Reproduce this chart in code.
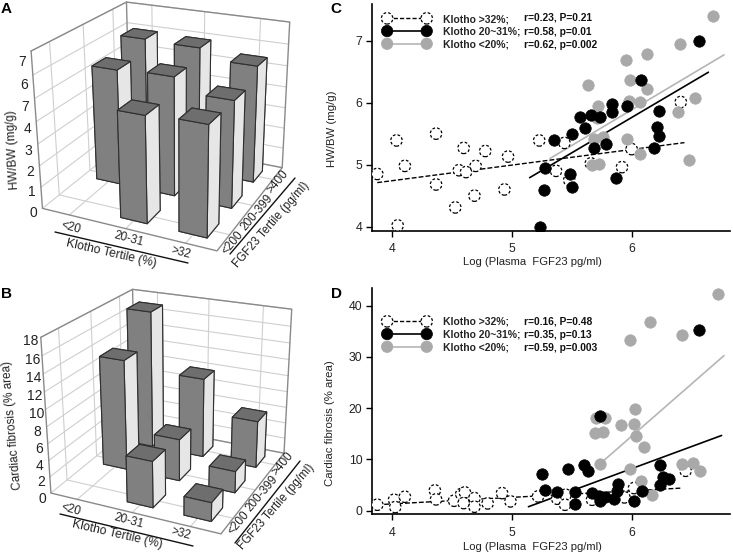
import numpy as np, matplotlib
matplotlib.use("Agg")
import matplotlib.pyplot as plt, seaborn as sns
from matplotlib.lines import Line2D
from matplotlib.legend_handler import HandlerTuple
from mpl_toolkits.mplot3d import proj3d

sns.set_theme(style="ticks")
plt.rcParams['font.family'] = ['Liberation Sans', 'DejaVu Sans']
W, H = 733, 554

klotho_labels = ['<20', '20-31', '>32']
fgf_labels = ['<200', '200-399', '>400']
hw_ticks = ['0', '1', '2', '3', '4', '7', '6', '7']
fib_ticks = ['0', '2', '4', '6', '8', '10', '12', '14', '16', '18']
# rows: Klotho tertile; columns: FGF23 tertile
hw_bw = [[0, 5.4, 6.0], [4.8, 5.5, 5.95], [4.9, 4.9, 5.5]]
fibrosis = [[0, 13.4, 17.1], [5.5, 5.1, 9.9], [2.2, 2.6, 5.8]]

c_white_x = [3.88,4.04,4.05,4.11,4.37,4.37,4.53,4.56,4.60,4.62,4.69,4.70,4.78,4.94,4.97,5.23,5.37,5.44,5.48,5.66,5.92,6.00,6.41]
c_white_y = [4.85,5.39,4.02,4.98,5.50,4.68,4.31,4.91,5.27,4.88,4.50,4.98,5.22,4.60,5.13,5.39,4.90,5.35,4.75,5.02,4.96,5.25,6.01]
c_black_x = [5.235,5.27,5.28,5.35,5.49,5.50,5.50,5.57,5.61,5.66,5.69,5.74,5.79,5.84,5.84,5.87,5.96,6.08,6.19,6.21,6.23,6.23,6.56]
c_black_y = [4.00,4.59,4.95,5.39,4.85,4.64,5.50,5.77,5.59,5.80,5.27,5.76,5.33,5.85,5.98,4.78,5.94,6.37,5.27,5.60,5.46,5.87,7.00]
c_gray_x = [5.64,5.72,5.71,5.69,5.76,5.67,5.73,5.95,5.99,5.98,6.07,5.96,6.07,6.13,6.13,6.40,6.39,6.53,6.48,6.68]
c_gray_y = [6.28,5.94,5.75,5.41,5.45,4.99,5.01,6.68,6.37,6.03,6.01,5.41,5.17,6.78,6.22,6.95,5.85,6.08,5.08,7.39]
c_line_white = ([3.88, 6.44], [4.71, 5.355])
c_line_black = ([5.15, 6.64], [4.79, 6.49])
c_line_gray = ([5.32, 6.77], [5.10, 6.77])

d_white_x = [3.88,4.02,4.03,4.11,4.36,4.37,4.52,4.58,4.61,4.60,4.69,4.69,4.80,4.92,4.99,5.22,5.38,5.45,5.445,5.67,5.94,6.02,6.45]
d_white_y = [1.17,2.14,0.71,2.73,3.96,2.21,1.95,3.25,3.57,1.49,2.47,0.78,1.43,3.44,1.82,2.79,2.34,3.12,1.17,2.14,2.60,4.42,7.79]
d_black_x = [5.25,5.28,5.38,5.47,5.53,5.53,5.60,5.64,5.67,5.74,5.73,5.74,5.78,5.85,5.88,5.89,6.02,6.09,6.24,6.24,6.26,6.31,6.56]
d_black_y = [7.14,4.09,3.64,8.12,3.70,1.36,8.96,7.79,3.44,18.44,2.79,1.82,2.60,2.27,3.77,5.19,1.95,3.77,8.96,5.07,6.62,6.23,35.26]
d_gray_x = [5.70,5.78,5.695,5.76,5.74,5.91,6.02,6.03,6.04,6.10,5.99,6.15,6.42,6.72,5.99,6.08,6.17,6.42,6.51,6.57]
d_gray_y = [18.18,18.05,15.13,15.45,9.09,16.82,16.95,19.81,14.61,12.47,33.38,36.75,34.29,42.2,8.18,5.71,2.99,9.09,9.29,7.79]
d_line_white = ([3.88, 6.42], [1.17, 4.42])
d_line_black = ([5.14, 6.75], [0.78, 14.68])
d_line_gray = ([5.74, 6.77], [9.22, 30.26])

fig = plt.figure(figsize=(W/100, H/100), dpi=100)

# camera: elev, azim, focal length, x aspect, y aspect, roll
cam_a = (22.74, -64.409, 0.519, 1.139, 1.134, 0.386)
place_a = (1627.03, 167.32, 114.28)
cam_b = (22.676, -64.905, 0.536, 1.119, 1.122, 0.132)
place_b = (1592.63, 172.62, 400.13)

FACE = '#808080'; TOP = '#6e6e6e'; SIDE = '#e6e6e6'; EDGE = '#303030'
GRID = '#cfcfcf'; FRAME = '#8a8a8a'

def panel3d(p, sol, values, zmax, zstep, zticks, lab_scale, lab_off):
    ax = fig.add_axes([0.25,0.25,0.5,0.5*W/H], projection='3d')
    ax.patch.set_alpha(0)
    ax.computed_zorder = False
    ax.view_init(elev=p[0], azim=p[1], roll=p[5])
    ax.set_proj_type('persp', focal_length=p[2])
    ax.set_box_aspect((p[3], p[4], 1))
    ax.apply_aspect()
    (u0, v0), (u1, v1) = ax.transData.inverted().transform(ax.transAxes.transform([(0,0),(1,1)]))
    s, tx, ty = sol
    left = tx + s*u0; bottom = ty - s*v0
    ax.set_position([left/W, 1-bottom/H, s*(u1-u0)/W, s*(v1-v0)/H])
    zs = np.arange(len(zticks))*zstep
    for z in zs:
        ax.plot([0,0,3],[0,3,3],[z,z,z], color=GRID, lw=0.8, zorder=1)
    for c in (0.5,1.5,2.5):
        ax.plot([0,0],[c,c],[0,zmax], color=GRID, lw=0.8, zorder=1)
        ax.plot([c,c],[3,3],[0,zmax], color=GRID, lw=0.8, zorder=1)
        ax.plot([c,c],[0,3],[0,0], color=GRID, lw=0.8, zorder=1)
        ax.plot([0,3],[c,c],[0,0], color=GRID, lw=0.8, zorder=1)
    ax.plot([0,0,3,3],[0,3,3,3],[zmax,zmax,zmax,0], color=FRAME, lw=1, zorder=2)
    ax.plot([0,0],[3,3],[0,zmax], color=FRAME, lw=1, zorder=2)
    ax.plot([0,0,3,3,0],[0,0,0,3,3],[zmax,0,0,0,0], color=FRAME, lw=1, zorder=2)
    w = 0.46
    order = 3
    for j in (2,1,0):
        for i in (0,1,2):
            h = values[i][j]
            if h <= 0: continue
            order += 1
            ax.bar3d(i+0.5-w/2, j+0.5-w/2, 0, w, w, h,
                     color=[FACE, TOP, FACE, FACE, FACE, SIDE], shade=False,
                     edgecolor=EDGE, linewidth=0.8, zorder=order)
    ax.set_xlim(0,3); ax.set_ylim(0,3); ax.set_zlim(0,zmax)
    ax.set_xticks([]); ax.set_yticks([]); ax.set_zticks([])
    ax.set_axis_off()
    M = ax.get_proj()
    for z, t in zip(zs, zticks):
        u, v, _ = proj3d.proj_transform(-0.18, 0, z*lab_scale+lab_off, M)
        ax.text2D(u, v, t, transform=ax.transData, fontsize=10, ha='center', va='center', color='#222222', zorder=30)
    return ax

axA = panel3d(cam_a, place_a, hw_bw, 7, 1, hw_ticks, 0.97, -0.315)
axB = panel3d(cam_b, place_b, fibrosis, 18, 2, fib_ticks, 1.025, -1.0)

def ftxt(x, y, s, **k):
    k.setdefault('ha','center'); k.setdefault('va','center'); k.setdefault('color','#222222')
    fig.text(x/W, 1-y/H, s, **k)
def fline(x0,y0,x1,y1):
    fig.add_artist(Line2D([x0/W,x1/W],[1-y0/H,1-y1/H], color='#111111', lw=1))

for x,y,t in zip((71,129,181),(228,239,253),klotho_labels):
    ftxt(x,y,t,fontsize=8.5,rotation=-15)
ftxt(111,254,'Klotho Tertile (%)',fontsize=8.7,rotation=-13)
fline(55,232,188,263)
for x,y,t in zip((233,257,278),(243,213,182),fgf_labels):
    ftxt(x,y,t,fontsize=8.5,rotation=50)
ftxt(271,225,'FGF23 Tertile (pg/ml)',fontsize=8.3,rotation=49)
fline(230,254,295,178)
ftxt(13,150,'HW/BW (mg/g)',fontsize=8.5,rotation=93)

for x,y,t in zip((71,129,181),(510,521,534),klotho_labels):
    ftxt(x,y,t,fontsize=8.5,rotation=-15)
ftxt(117,535,'Klotho Tertile (%)',fontsize=8.7,rotation=-13)
fline(60,514,193,546)
for x,y,t in zip((239,262,283),(523,494,464),fgf_labels):
    ftxt(x,y,t,fontsize=8.5,rotation=50)
ftxt(276,507,'FGF23 Tertile (pg/ml)',fontsize=8.3,rotation=49)
fline(235,543,300,461)
ftxt(12,425,'Cardiac fibrosis (% area)',fontsize=8.5,rotation=95)

for x,y,t in ((6,9,'A'),(6,294,'B'),(336,9,'C'),(336,294,'D')):
    ftxt(x,y,t,fontsize=11,fontweight='bold',color='black')

GRAY = '#a9a9a9'
def scatter_panel(box, xlim, ylim, yticks, ylabel, ylab_xy, xlab_xy, white, black, gray, lw, lb, lg, leg_xy, rtexts, ry):
    l,t,r,b = box
    ax = fig.add_axes([l/W, 1-b/H, (r-l)/W, (b-t)/H])
    ax.set_xlim(*xlim); ax.set_ylim(*ylim)
    sns.lineplot(x=lw[0], y=lw[1], ax=ax, color='black', lw=1, linestyle=(0,(3.5,1.5)), zorder=2)
    sns.lineplot(x=lg[0], y=lg[1], ax=ax, color='#b5b5b5', lw=1.2, zorder=2)
    sns.lineplot(x=lb[0], y=lb[1], ax=ax, color='black', lw=1.2, zorder=2)
    ms = 68
    sns.scatterplot(x=white[0], y=white[1], ax=ax, s=ms, color='white', edgecolor='black', linewidth=0.9, linestyle=(0,(2.2,1.6)), zorder=3)
    pw = ax.collections[-1]
    sns.scatterplot(x=gray[0], y=gray[1], ax=ax, s=ms, color=GRAY, edgecolor=GRAY, linewidth=0.5, zorder=4)
    pg = ax.collections[-1]
    sns.scatterplot(x=black[0], y=black[1], ax=ax, s=ms, color='black', edgecolor='black', linewidth=0.5, zorder=5)
    pb_ = ax.collections[-1]
    ax.set_xticks([4,5,6]); ax.set_yticks(yticks)
    ax.tick_params(labelsize=8.8, length=4, width=1, color='black', labelcolor='#222222', pad=3)
    ax.tick_params(axis='x', pad=5)
    for s in ('top','right'): ax.spines[s].set_visible(False)
    for s in ('left','bottom'):
        ax.spines[s].set_linewidth(1.2); ax.spines[s].set_color('black')
    ax.set_xlabel('Log (Plasma  FGF23 pg/ml)', fontsize=8.1, color='#222222')
    ax.xaxis.set_label_coords(*xlab_xy)
    ax.set_ylabel(ylabel, fontsize=8.2, color='#222222')
    ax.yaxis.set_label_coords(*ylab_xy)
    hs = [(Line2D([],[],color='black',lw=1,linestyle=(0,(3,1.5))), pw),
          (Line2D([],[],color='black',lw=1.2), pb_),
          (Line2D([],[],color='#b5b5b5',lw=1.2), pg)]
    labs = ['Klotho >32%;','Klotho 20~31%;','Klotho <20%;']
    ax.legend(hs, labs, handler_map={tuple: HandlerTuple(ndivide=1, pad=0)}, scatterpoints=2, numpoints=2,
              scatteryoffsets=[0.5], loc='upper left', bbox_to_anchor=(leg_xy[0]/W, 1-leg_xy[1]/H),
              bbox_transform=fig.transFigure, frameon=False, borderpad=0, borderaxespad=0,
              handlelength=4.4, handletextpad=1.3, labelspacing=0.26,
              prop={'size':7.5,'weight':'bold','family':['Liberation Sans']})
    for y,s in zip(ry, rtexts):
        fig.text(524/W, 1-y/H, s, fontsize=7.4, fontweight='bold', va='center', ha='left', color='#111111')
    return ax

axC = scatter_panel((372,4,730,231),(3.836,6.82),(3.93,7.59),[4,5,6,7],'HW/BW (mg/g)',(-0.098,0.449),(0.447,-0.115),
    (c_white_x,c_white_y),(c_black_x,c_black_y),(c_gray_x,c_gray_y),c_line_white,c_line_black,c_line_gray,
    (384,14),['r=0.23, P=0.21','r=0.58, p=0.01','r=0.62, p=0.002'],(18,32,45))
axD = scatter_panel((372,288,730,514),(3.836,6.82),(-0.64,43.45),[0,10,20,30,40],'Cardiac fibrosis (% area)',(-0.103,0.403),(0.447,-0.124),
    (d_white_x,d_white_y),(d_black_x,d_black_y),(d_gray_x,d_gray_y),d_line_white,d_line_black,d_line_gray,
    (384,317),['r=0.16, P=0.48','r=0.35, p=0.13','r=0.59, p=0.003'],(321,335,348))

fig.savefig('out.png', dpi=100)
